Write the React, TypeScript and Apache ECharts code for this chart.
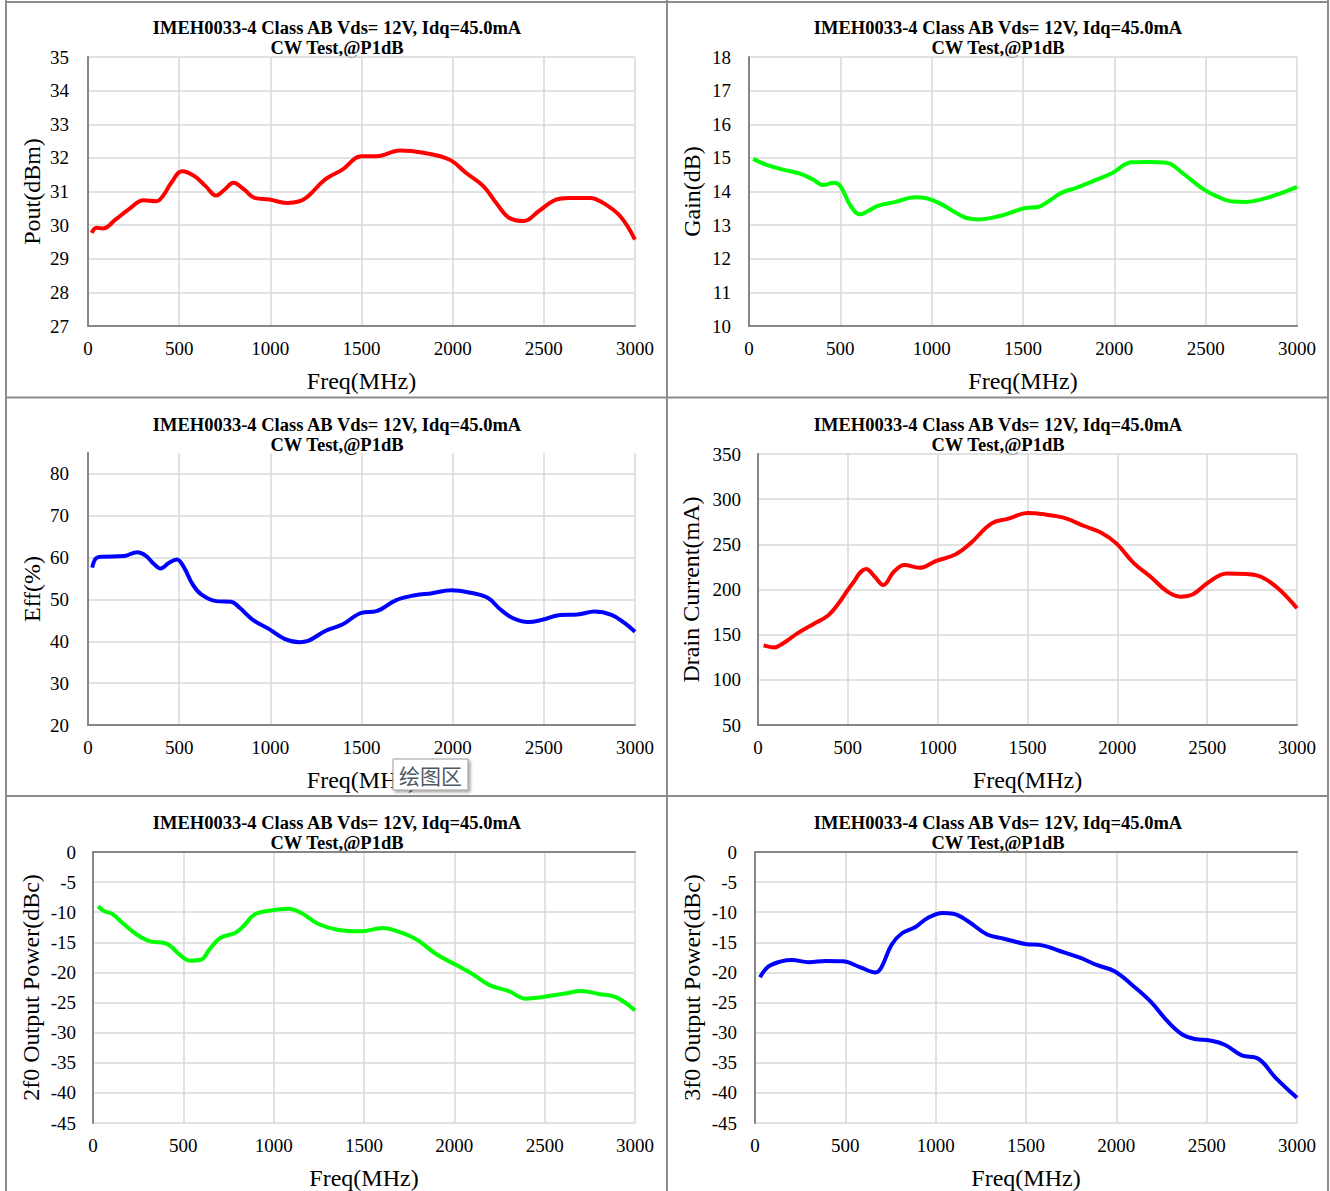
import React, { useEffect, useRef } from "react";
import * as echarts from "echarts";

const TITLE_LINE1 = "IMEH0033-4 Class AB Vds= 12V, Idq=45.0mA";
const TITLE_LINE2 = "CW Test,@P1dB";
const X_NAME = "Freq(MHz)";
const X_MIN = 0;
const X_MAX = 3000;
const X_STEP = 500;

// Pout (dBm)
const poutFreq = [20, 47, 82, 152, 223, 305, 375, 410, 457, 516, 586, 645, 703, 750, 797, 856, 914, 996, 1090, 1160, 1207, 1301, 1395, 1500, 1582, 1711, 1840, 1981, 2074, 2168, 2239, 2309, 2391, 2473, 2567, 2637, 2754, 2825, 2918, 3000];
const poutVal = [29.77, 29.92, 29.9, 30.17, 30.47, 30.74, 30.71, 30.86, 31.26, 31.6, 31.45, 31.16, 30.88, 31.06, 31.26, 31.06, 30.81, 30.76, 30.66, 30.71, 30.86, 31.36, 31.65, 32.05, 32.05, 32.22, 32.15, 31.95, 31.55, 31.16, 30.66, 30.22, 30.12, 30.42, 30.76, 30.81, 30.81, 30.66, 30.27, 29.57];

// Gain (dB)
const gainFreq = [23, 93, 186, 279, 349, 407, 465, 500, 558, 609, 651, 709, 802, 907, 977, 1047, 1116, 1186, 1256, 1372, 1442, 1512, 1582, 1640, 1710, 1791, 1884, 1989, 2093, 2186, 2291, 2373, 2477, 2559, 2652, 2721, 2814, 2907, 3000];
const gainVal = [14.97, 14.8, 14.65, 14.53, 14.36, 14.19, 14.26, 14.16, 13.56, 13.32, 13.42, 13.58, 13.69, 13.83, 13.79, 13.64, 13.42, 13.22, 13.17, 13.27, 13.39, 13.51, 13.54, 13.71, 13.96, 14.11, 14.31, 14.55, 14.87, 14.88, 14.85, 14.55, 14.11, 13.86, 13.7, 13.69, 13.78, 13.94, 14.14];

// Efficiency (%)
const effFreq = [23, 47, 82, 199, 270, 316, 363, 398, 445, 488, 527, 574, 621, 703, 785, 832, 902, 996, 1078, 1160, 1207, 1301, 1395, 1500, 1582, 1688, 1793, 1887, 1992, 2098, 2192, 2262, 2332, 2414, 2496, 2590, 2684, 2778, 2871, 2942, 3000];
const effVal = [57.6, 59.95, 60.2, 60.4, 61.3, 60.5, 58.4, 57.4, 58.8, 59.55, 57.6, 53.6, 51.2, 49.6, 49.45, 48.0, 45.2, 42.85, 40.6, 39.8, 40.1, 42.45, 44.0, 46.8, 47.2, 49.8, 51.0, 51.5, 52.2, 51.6, 50.4, 47.6, 45.5, 44.6, 45.2, 46.3, 46.4, 47.1, 46.3, 44.4, 42.3];

// Drain current (mA)
const idFreq = [31, 90, 142, 213, 307, 390, 449, 520, 602, 650, 697, 756, 815, 898, 992, 1098, 1181, 1299, 1394, 1500, 1606, 1701, 1819, 1913, 1996, 2090, 2185, 2279, 2350, 2421, 2504, 2610, 2716, 2799, 2894, 3000];
const idVal = [138.1, 135.9, 140.7, 150.6, 161.6, 171.2, 184.7, 204.9, 222.6, 214.1, 204.9, 219.6, 227.0, 224.0, 231.7, 238.7, 250.8, 272.9, 278.4, 284.6, 282.8, 279.5, 270.0, 262.6, 250.8, 229.5, 214.1, 197.6, 192.1, 194.7, 207.5, 217.8, 217.1, 214.1, 201.3, 179.2];

// 2f0 (dBc)
const h2Freq = [28, 64, 104, 170, 242, 313, 395, 431, 478, 538, 597, 644, 703, 786, 833, 893, 976, 1082, 1153, 1248, 1354, 1485, 1603, 1698, 1792, 1899, 2006, 2100, 2195, 2302, 2396, 2491, 2610, 2704, 2799, 2894, 3000];
const h2Val = [-9.0, -9.85, -10.24, -11.95, -13.7, -14.8, -15.1, -15.66, -17.0, -18.04, -17.9, -16.2, -14.3, -13.45, -12.3, -10.4, -9.74, -9.41, -10.13, -11.95, -12.9, -13.17, -12.6, -13.3, -14.55, -16.93, -18.7, -20.25, -22.1, -23.1, -24.35, -24.07, -23.5, -23.1, -23.57, -24.1, -26.3];

// 3f0 (dBc)
const h3Freq = [28, 75, 146, 204, 298, 392, 486, 580, 667, 698, 756, 815, 886, 956, 1038, 1097, 1179, 1285, 1379, 1496, 1590, 1684, 1802, 1895, 1990, 2084, 2189, 2283, 2365, 2436, 2518, 2600, 2694, 2788, 2882, 3000];
const h3Val = [-20.8, -19.0, -18.15, -17.93, -18.3, -18.1, -18.15, -19.1, -20.0, -19.26, -15.4, -13.45, -12.5, -10.96, -10.13, -10.24, -11.5, -13.7, -14.4, -15.27, -15.5, -16.4, -17.6, -18.8, -19.8, -22.0, -24.8, -28.1, -30.3, -31.05, -31.3, -32.0, -33.76, -34.37, -37.5, -40.8];

const SERIF = "'Liberation Serif', 'Times New Roman', serif";

type Panel = {
  freq: number[];
  val: number[];
  color: string;
  yName: string;
  yMin: number;
  yMax: number;
  yStep: number;
  hideMax?: boolean;
  grid: { left: number; top: number; width: number; height: number };
  yNameGap: number;
  yLabelMargin: number;
  titleX: number;
  titleY: number;
};

const panels: Panel[] = [
  { freq: poutFreq, val: poutVal, color: "#ff0000", yName: "Pout(dBm)", yMin: 27, yMax: 35, yStep: 1,
    grid: { left: 88, top: 57, width: 547, height: 269 }, yNameGap: 44, yLabelMargin: 19, titleX: 337, titleY: 28 },
  { freq: gainFreq, val: gainVal, color: "#00ff00", yName: "Gain(dB)", yMin: 10, yMax: 18, yStep: 1,
    grid: { left: 749, top: 57, width: 548, height: 269 }, yNameGap: 45, yLabelMargin: 18, titleX: 998, titleY: 28 },
  { freq: effFreq, val: effVal, color: "#0000ff", yName: "Eff(%)", yMin: 20, yMax: 85, yStep: 10, hideMax: true,
    grid: { left: 88, top: 453, width: 547, height: 272 }, yNameGap: 44, yLabelMargin: 19, titleX: 337, titleY: 425 },
  { freq: idFreq, val: idVal, color: "#ff0000", yName: "Drain Current(mA)", yMin: 50, yMax: 350, yStep: 50,
    grid: { left: 758, top: 454, width: 539, height: 271 }, yNameGap: 55, yLabelMargin: 17, titleX: 998, titleY: 425 },
  { freq: h2Freq, val: h2Val, color: "#00ff00", yName: "2f0 Output Power(dBc)", yMin: -45, yMax: 0, yStep: 5,
    grid: { left: 93, top: 852, width: 542, height: 271 }, yNameGap: 50, yLabelMargin: 17, titleX: 337, titleY: 823 },
  { freq: h3Freq, val: h3Val, color: "#0000ff", yName: "3f0 Output Power(dBc)", yMin: -45, yMax: 0, yStep: 5,
    grid: { left: 755, top: 852, width: 542, height: 271 }, yNameGap: 51, yLabelMargin: 18, titleX: 998, titleY: 823 },
];

export default function App() {
  const ref = useRef<HTMLDivElement>(null);

  useEffect(() => {
    document.body.style.margin = "0";
    if (!ref.current) return;
    const chart = echarts.init(ref.current, undefined, { renderer: "svg" });

    const graphics: any[] = [];
    const borderStyle = { stroke: "#8c8c8c", lineWidth: 2 };
    const lines = [
      [6, 0, 6, 1191],
      [667, 0, 667, 1191],
      [1328, 0, 1328, 1191],
      [6, 2, 1328, 2],
      [6, 397.5, 1328, 397.5],
      [6, 796, 1328, 796],
    ];
    lines.forEach(([x1, y1, x2, y2]) =>
      graphics.push({ type: "line", shape: { x1, y1, x2, y2 }, style: borderStyle, silent: true })
    );
    panels.forEach((p) => {
      graphics.push({
        type: "text",
        x: p.titleX,
        y: p.titleY,
        style: { text: TITLE_LINE1, align: "center", verticalAlign: "middle", fontFamily: SERIF, fontWeight: "bold", fontSize: 18.5, fill: "#000" },
      });
      graphics.push({
        type: "text",
        x: p.titleX,
        y: p.titleY + 20,
        style: { text: TITLE_LINE2, align: "center", verticalAlign: "middle", fontFamily: SERIF, fontWeight: "bold", fontSize: 18.5, fill: "#000" },
      });
    });
    // Excel hover tooltip covering part of the axis name
    graphics.push({
      type: "rect",
      z: 300,
      shape: { x: 393, y: 759, width: 75, height: 31 },
      style: { fill: "#ffffff", stroke: "#9a9a9a", lineWidth: 1, shadowBlur: 3, shadowOffsetX: 2, shadowOffsetY: 2, shadowColor: "rgba(0,0,0,0.35)" },
    });
    graphics.push({
      type: "text",
      z: 301,
      x: 430.5,
      y: 775,
      style: { text: "绘图区", align: "center", verticalAlign: "middle", fontFamily: "'Noto Sans CJK SC', sans-serif", fontSize: 21, fill: "#4f5964" },
    });

    const option: any = {
      animation: false,
      backgroundColor: "#ffffff",
      grid: panels.map((p) => ({ ...p.grid, containLabel: false })),
      xAxis: panels.map((p, i) => ({
        type: "value",
        gridIndex: i,
        min: X_MIN,
        max: X_MAX,
        interval: X_STEP,
        name: X_NAME,
        nameLocation: "middle",
        nameGap: 43,
        nameTextStyle: { fontFamily: SERIF, fontSize: 24, color: "#000" },
        axisLine: { show: true, lineStyle: { color: "#868686", width: 2 } },
        axisTick: { show: false },
        axisLabel: { fontFamily: SERIF, fontSize: 19, color: "#000", margin: 13, formatter: (v: number) => String(v) },
        splitLine: { show: true, lineStyle: { color: "#d9d9d9", width: 1.5 } },
      })),
      yAxis: panels.map((p, i) => ({
        type: "value",
        gridIndex: i,
        min: p.yMin,
        max: p.yMax,
        interval: p.yStep,
        name: p.yName,
        nameLocation: "middle",
        nameGap: p.yNameGap,
        nameTextStyle: { fontFamily: SERIF, fontSize: 24, color: "#000" },
        axisLine: { show: true, lineStyle: { color: "#868686", width: 2 } },
        axisTick: { show: false },
        axisLabel: {
          fontFamily: SERIF,
          fontSize: 19,
          color: "#000",
          margin: p.yLabelMargin,
          showMaxLabel: p.hideMax ? false : true,
          formatter: (v: number) => String(v),
        },
        splitLine: { show: true, showMaxLine: p.hideMax ? false : true, lineStyle: { color: "#d9d9d9", width: 1.5 } },
      })),
      series: panels.map((p, i) => ({
        type: "line",
        xAxisIndex: i,
        yAxisIndex: i,
        data: p.freq.map((f, k) => [f, p.val[k]]),
        showSymbol: false,
        smooth: 0.4,
        lineStyle: { color: p.color, width: 4 },
        itemStyle: { color: p.color },
      })),
      graphic: graphics,
    };
    chart.setOption(option);
    return () => chart.dispose();
  }, []);

  return (
    <div
      ref={ref}
      style={{ position: "absolute", left: 0, top: 0, width: 1330, height: 1191, background: "#fff" }}
    />
  );
}
